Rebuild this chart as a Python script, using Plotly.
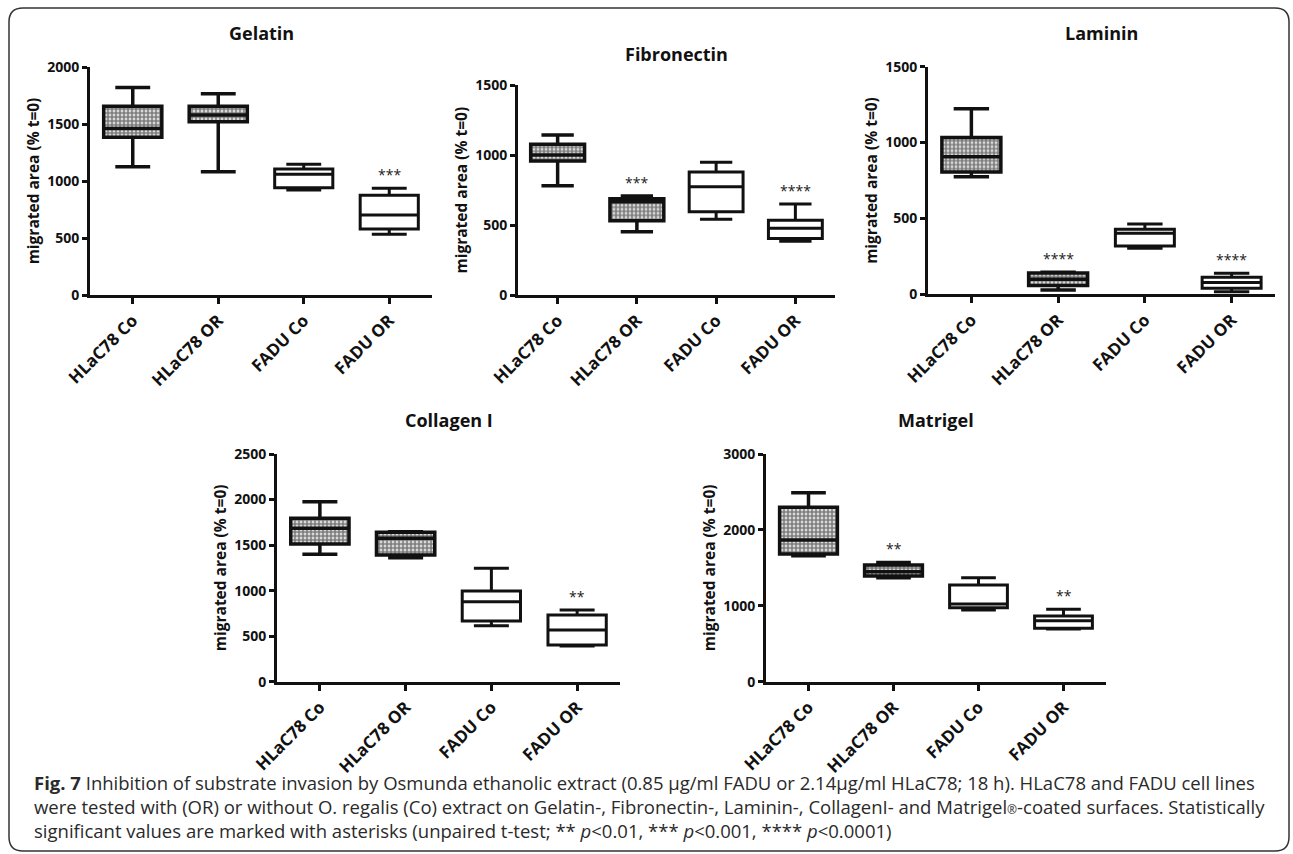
import plotly.graph_objects as go

W, H = 1293, 854

categories = ["HLaC78 Co", "HLaC78 OR", "FADU Co", "FADU OR"]

panel_titles = ["Gelatin", "Fibronectin", "Laminin", "Collagen I", "Matrigel"]

gel_upper = [1820, 1765, 1146, 936]
gel_q3 = [1655, 1655, 1105, 874]
gel_median = [1460, 1580, 1060, 702]
gel_q1 = [1383, 1520, 941, 579]
gel_lower = [1125, 1082, 921, 532]
gel_sig = ["", "", "", "***"]

fib_upper = [1144, 708, 949, 651]
fib_q3 = [1078, 689, 880, 534]
fib_median = [1001, 667, 775, 477]
fib_q1 = [958, 531, 596, 405]
fib_lower = [782, 453, 541, 384]
fib_sig = ["", "***", "", "****"]

lam_upper = [1223, 145, 463, 138]
lam_q3 = [1034, 140, 428, 112]
lam_median = [906, 100, 402, 77]
lam_q1 = [806, 58, 318, 40]
lam_lower = [775, 28, 303, 17]
lam_sig = ["", "****", "", "****"]

col_upper = [1976, 1645, 1245, 787]
col_q3 = [1794, 1640, 996, 732]
col_median = [1684, 1574, 878, 567]
col_q1 = [1512, 1391, 666, 403]
col_lower = [1398, 1362, 615, 392]
col_sig = ["", "", "", "**"]

mat_upper = [2490, 1572, 1370, 954]
mat_q3 = [2297, 1537, 1274, 866]
mat_median = [1866, 1449, 1024, 804]
mat_q1 = [1682, 1392, 975, 703]
mat_lower = [1660, 1370, 945, 694]
mat_sig = ["", "**", "", "**"]

y_max = [2000, 1500, 1500, 2500, 3000]
y_dtick = [500, 500, 500, 500, 1000]

y_title = "migrated area (% t=0)"

caption_lines = [
    "<b>Fig. 7</b> Inhibition of substrate invasion by Osmunda ethanolic extract (0.85 µg/ml FADU or 2.14µg/ml HLaC78; 18 h). HLaC78 and FADU cell lines",
    "were tested with (OR) or without O. regalis (Co) extract on Gelatin-, Fibronectin-, Laminin-, CollagenI- and Matrigel<span style='font-size:12px'>®</span>-coated surfaces. Statistically",
    "significant values are marked with asterisks (unpaired t-test; ** <i>p</i>&lt;0.01, *** <i>p</i>&lt;0.001, **** <i>p</i>&lt;0.0001)",
]

panels = [
    (gel_q1, gel_median, gel_q3, gel_lower, gel_upper, gel_sig),
    (fib_q1, fib_median, fib_q3, fib_lower, fib_upper, fib_sig),
    (lam_q1, lam_median, lam_q3, lam_lower, lam_upper, lam_sig),
    (col_q1, col_median, col_q3, col_lower, col_upper, col_sig),
    (mat_q1, mat_median, mat_q3, mat_lower, mat_upper, mat_sig),
]

# pixel geometry of each plot area: (left, right, top, bottom)
geom = [
    (90, 432, 67, 295),
    (518, 835, 85.3, 295),
    (928, 1275, 66.7, 294.3),
    (277, 620, 454, 681.7),
    (766, 1106, 454, 681.7),
]
title_y = [33, 54, 33, 420, 420]

FONT = "Open Sans, Lato, Arial, sans-serif"
BOXW = 0.68

fig = go.Figure()
layout = dict(
    width=W, height=H,
    margin=dict(l=0, r=0, t=0, b=0, pad=0, autoexpand=False),
    paper_bgcolor="white", plot_bgcolor="white",
    showlegend=False, boxmode="overlay", barmode="overlay",
    font=dict(family=FONT, color="#111"),
)
annotations = []

for i, (q1, med, q3, lo, up, sig) in enumerate(panels):
    n = "" if i == 0 else str(i + 1)
    xa, ya = "x" + n, "y" + n
    left, right, top, bottom = geom[i]
    # patterned bodies for HLaC78 boxes
    fig.add_trace(go.Bar(
        x=categories[:2], y=[q3[k] - q1[k] for k in range(2)], base=q1[:2],
        width=BOXW, xaxis=xa, yaxis=ya, hoverinfo="skip",
        marker=dict(color="white", line=dict(width=0),
                    pattern=dict(shape=".", fgcolor="#000", bgcolor="#ffffff",
                                 size=4, solidity=0.75)),
    ))
    fig.add_trace(go.Box(
        x=categories[:2], q1=q1[:2], median=med[:2], q3=q3[:2],
        lowerfence=lo[:2], upperfence=up[:2],
        width=BOXW, whiskerwidth=0.6, boxpoints=False,
        fillcolor="rgba(0,0,0,0)", line=dict(color="#111", width=3.5),
        xaxis=xa, yaxis=ya, hoverinfo="skip",
    ))
    fig.add_trace(go.Box(
        x=categories[2:], q1=q1[2:], median=med[2:], q3=q3[2:],
        lowerfence=lo[2:], upperfence=up[2:],
        width=BOXW, whiskerwidth=0.6, boxpoints=False,
        fillcolor="white", line=dict(color="#111", width=3),
        xaxis=xa, yaxis=ya, hoverinfo="skip",
    ))
    layout["xaxis" + n] = dict(
        domain=[left / W, right / W], anchor=ya, automargin=False,
        type="category", categoryorder="array", categoryarray=categories,
        range=[-0.5, 3.5], showgrid=False, zeroline=False,
        showline=True, linecolor="#111", linewidth=3,
        ticks="outside", ticklen=6, tickwidth=3, tickcolor="#111",
        tickangle=-45, tickfont=dict(family=FONT, size=17, color="#111", weight="bold"),
    )
    layout["yaxis" + n] = dict(
        domain=[1 - bottom / H, 1 - top / H], anchor=xa, automargin=False,
        range=[0, y_max[i]], dtick=y_dtick[i], tick0=0,
        showgrid=False, zeroline=False,
        showline=True, linecolor="#111", linewidth=3,
        ticks="outside", ticklen=5, tickwidth=3, tickcolor="#111",
        tickfont=dict(family=FONT, size=14, color="#111", weight="bold"),
        title=dict(text=y_title, standoff=4,
                   font=dict(family=FONT, size=15.5, color="#111", weight="bold")),
    )
    annotations.append(dict(
        text="<b>%s</b>" % panel_titles[i], xref="paper", yref="paper",
        x=(left + right) / 2 / W, y=1 - title_y[i] / H,
        xanchor="center", yanchor="middle", showarrow=False,
        font=dict(family=FONT, size=18, color="#111"),
    ))
    for k, s in enumerate(sig):
        if s:
            annotations.append(dict(
                text=s, xref=xa, yref=ya, x=categories[k], y=max(up[k], q3[k]),
                xanchor="center", yanchor="bottom", yshift=2, showarrow=False,
                font=dict(family=FONT, size=14, color="#222"),
            ))

annotations.append(dict(
    text="<br>".join(caption_lines), xref="paper", yref="paper",
    x=32 / W, y=1 - 806 / H,
    xanchor="left", yanchor="middle", showarrow=False, align="left",
    font=dict(family=FONT, size=18.5, color="#2a2a2a"),
))

# rounded border
x0, x1, y0, y1, r = 9, 1289, 8, 851, 14
def px(x):
    return x / W
def py(y):
    return 1 - y / H
path = (
    f"M {px(x0 + r)},{py(y0)} L {px(x1 - r)},{py(y0)} "
    f"Q {px(x1)},{py(y0)} {px(x1)},{py(y0 + r)} "
    f"L {px(x1)},{py(y1 - r)} Q {px(x1)},{py(y1)} {px(x1 - r)},{py(y1)} "
    f"L {px(x0 + r)},{py(y1)} Q {px(x0)},{py(y1)} {px(x0)},{py(y1 - r)} "
    f"L {px(x0)},{py(y0 + r)} Q {px(x0)},{py(y0)} {px(x0 + r)},{py(y0)} Z"
)
layout["shapes"] = [dict(type="path", path=path, xref="paper", yref="paper",
                         line=dict(color="#333", width=1.5), layer="below")]
layout["annotations"] = annotations

fig.update_layout(**layout)
fig.write_html("out.html")
